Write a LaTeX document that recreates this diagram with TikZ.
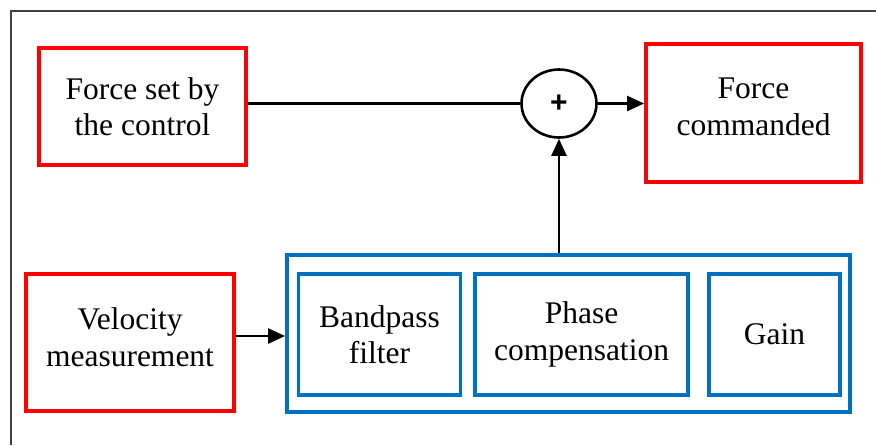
\documentclass[tikz,border=0pt]{standalone}
\usepackage{fontspec}
\setmainfont{Liberation Serif}
\newfontfamily\plusfont{Liberation Sans}
\usepackage{tikz}
\usepackage{xcolor}
\usetikzlibrary{shapes, arrows.meta, positioning}
\definecolor{bdred}{HTML}{FF0000}
\definecolor{bdblue}{HTML}{0070C0}
\definecolor{bdframe}{HTML}{404040}

\tikzset{
  redbox/.style={draw=bdred, line width=3.8pt, align=center, inner sep=0pt},
  bluebox/.style={draw=bdblue, line width=3.8pt, align=center, inner sep=0pt},
  sumnode/.style={draw, ellipse, line width=2.6pt, inner sep=0pt, minimum width=75pt, minimum height=68pt},
  arr/.style={-{Triangle[length=17pt, width=15pt]}, line width=2.5pt}
}

\begin{document}
\begin{tikzpicture}[x=1pt, y=-1pt, font=\fontsize{31.5}{36.5}\selectfont]
\useasboundingbox (0,0) rectangle (876,445);
\draw[bdframe, line width=2pt] (10.5,445) -- (10.5,10.5) -- (876,10.5);
\node[redbox, minimum width=207pt, minimum height=117pt] (ctrl) at (142.5,106.5) {Force set by\\the control};
\node[sumnode] (sum) at (559,103.5) {\plusfont\fontsize{30}{30}\selectfont\bfseries +};
\node[redbox, minimum width=215pt, minimum height=138pt, text depth=13pt] (cmd) at (753.5,113) {Force\\commanded};
\node[redbox, minimum width=208pt, minimum height=137pt, text depth=11pt] (vel) at (130,342.5) {Velocity\\measurement};
\node[bluebox, minimum width=563pt, minimum height=157pt] (proc) at (568.5,333.5) {};
\node[bluebox, minimum width=162pt, minimum height=121pt] (bp) at (379.5,334.5) {Bandpass\\filter};
\node[bluebox, minimum width=213pt, minimum height=121pt] (ph) at (581.5,334.5) {Phase\\compensation};
\node[bluebox, minimum width=131pt, minimum height=121pt] (gain) at (774.5,334.5) {Gain};
\draw[line width=2.5pt] (ctrl.east |- sum.west) -- (sum.west);
\draw[arr] (sum.east) -- (cmd.west |- sum.east);
\draw[arr] (sum |- proc.north) -- (sum.south);
\draw[arr] (vel.east |- 0,336) -- (proc.west |- 0,336);
\end{tikzpicture}
\end{document}
